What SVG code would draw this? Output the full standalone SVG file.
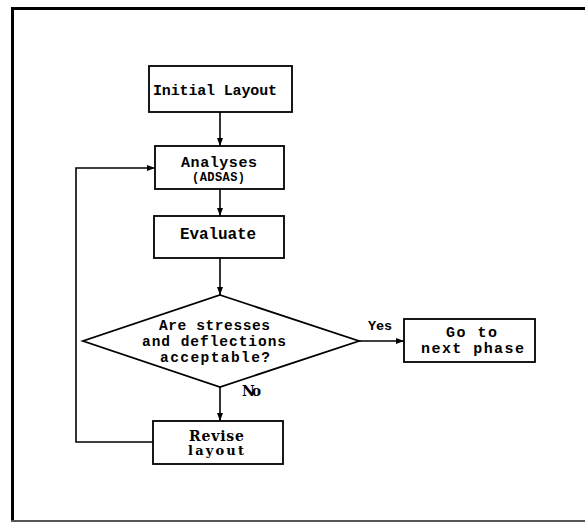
<svg xmlns="http://www.w3.org/2000/svg" width="585" height="522" viewBox="0 0 585 522">
<style>
.box{fill:#fff;stroke:#000;stroke-width:1.8}
.t{font-family:"Liberation Mono","DejaVu Sans Mono",monospace;font-weight:bold;fill:#000;text-anchor:middle}
.s{font-family:"DejaVu Serif","Liberation Serif",serif;font-weight:bold;fill:#000;text-anchor:middle}
.c{fill:none;stroke:#000;stroke-width:1.6}
</style>
<defs>
<marker id="arr" markerUnits="userSpaceOnUse" markerWidth="8" markerHeight="6" refX="8" refY="3" orient="auto">
<path d="M0,0 L8,3 L0,6 z" fill="#000"/>
</marker>
</defs>
<rect width="585" height="522" fill="#fff"/>
<g id="frame">
<line x1="12.5" y1="7" x2="12.5" y2="522" stroke="#000" stroke-width="3"/>
<line x1="11" y1="8.5" x2="585" y2="8.5" stroke="#000" stroke-width="3"/>
<line x1="11" y1="521" x2="585" y2="521" stroke="#555" stroke-width="2"/>
</g>
<g id="connectors">
<line class="c" x1="220" y1="112" x2="220" y2="146" marker-end="url(#arr)"/>
<line class="c" x1="220" y1="189" x2="220" y2="216" marker-end="url(#arr)"/>
<line class="c" x1="220" y1="258" x2="220" y2="295" marker-end="url(#arr)"/>
<line class="c" x1="359" y1="341" x2="404" y2="341" marker-end="url(#arr)"/>
<line class="c" x1="220" y1="387" x2="220" y2="421" marker-end="url(#arr)"/>
<polyline class="c" points="153,442 76,442 76,168 155,168" marker-end="url(#arr)"/>
<text class="t" x="380" y="330" font-size="13.5" textLength="24">Yes</text>
<text class="s" x="251.5" y="396" font-size="14" textLength="19">No</text>
</g>
<g id="initial">
<rect class="box" x="149" y="66" width="143" height="46"/>
<text class="t" x="215" y="95" font-size="15" textLength="124">Initial Layout</text>
</g>
<g id="analyses">
<rect class="box" x="155" y="146" width="129" height="43"/>
<text class="t" x="219" y="166.5" font-size="15" textLength="76">Analyses</text>
<text class="t" x="218.5" y="180.5" font-size="12" textLength="53">(ADSAS)</text>
</g>
<g id="evaluate">
<rect class="box" x="154" y="216" width="130" height="42"/>
<text class="t" x="218" y="239" font-size="16" textLength="76">Evaluate</text>
</g>
<g id="decision">
<polygon class="box" points="220,295 359,341 220,387 83,341"/>
<text class="t" x="214.5" y="330" font-size="14.5" textLength="111">Are stresses</text>
<text class="t" x="214" y="346" font-size="14.5" textLength="144">and deflections</text>
<text class="t" x="215" y="362" font-size="14.5" textLength="110">acceptable?</text>
</g>
<g id="next">
<rect class="box" x="404" y="319" width="131" height="43"/>
<text class="t" x="471.5" y="337" font-size="15" textLength="51">Go to</text>
<text class="t" x="472.5" y="353" font-size="15" textLength="103">next phase</text>
</g>
<g id="revise">
<rect class="box" x="153" y="421" width="130" height="43"/>
<text class="s" x="216.5" y="441" font-size="14" textLength="55">Revise</text>
<text class="s" x="216" y="455" font-size="13" textLength="56">layout</text>
</g>
</svg>
